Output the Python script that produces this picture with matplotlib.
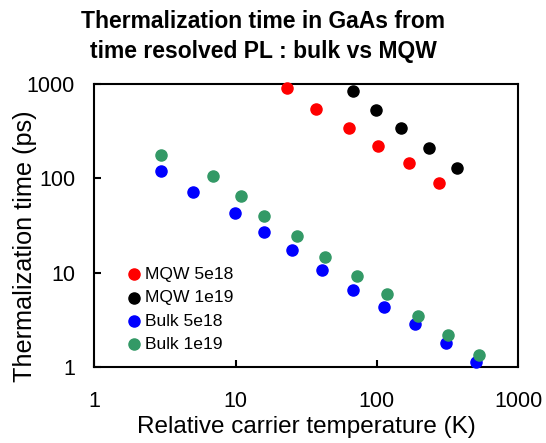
import matplotlib
matplotlib.use("Agg")
import matplotlib.pyplot as plt
from matplotlib.ticker import FixedLocator, FixedFormatter, NullLocator

plt.rcParams['font.family'] = ['Liberation Sans', 'DejaVu Sans']

mqw5_x = [23.1, 37.0, 63.1, 101, 168, 274]
mqw5_y = [912, 546, 344, 222, 147, 90]
mqw1_x = [67.4, 98, 148, 233, 369]
mqw1_y = [847, 533, 344, 208, 129]
bulk5_x = [2.97, 4.96, 9.94, 15.9, 24.9, 41.1, 68.1, 113, 187, 307, 506]
bulk5_y = [119, 71.6, 43.4, 27.3, 17.2, 10.6, 6.53, 4.28, 2.85, 1.78, 1.12]
bulk1_x = [2.97, 6.94, 10.96, 15.9, 27.0, 43.1, 72.3, 117, 194, 319, 526]
bulk1_y = [176, 106, 65.6, 39.6, 24.3, 14.7, 9.25, 5.92, 3.46, 2.20, 1.34]
ticks = [1, 10, 100, 1000]
tick_labels = ['1', '10', '100', '1000']

fig = plt.figure(figsize=(5.46, 4.43), dpi=100)
ax = fig.add_axes([0.173, 0.1716, 0.776, 0.6388])

ms = 64
ax.scatter(mqw5_x, mqw5_y, s=ms, color='#ff0000', label='MQW 5e18', zorder=3, clip_on=False)
ax.scatter(mqw1_x, mqw1_y, s=ms, color='#000000', label='MQW 1e19', zorder=3, clip_on=False)
ax.scatter(bulk5_x, bulk5_y, s=ms, color='#0000ff', label='Bulk 5e18', zorder=3, clip_on=False)
ax.scatter(bulk1_x, bulk1_y, s=ms, color='#339966', label='Bulk 1e19', zorder=3, clip_on=False)

ax.set_xscale('log')
ax.set_yscale('log')
ax.set_xlim(1, 1000)
ax.set_ylim(1, 1000)
for a in (ax.xaxis, ax.yaxis):
    a.set_major_locator(FixedLocator(ticks))
    a.set_major_formatter(FixedFormatter(tick_labels))
    a.set_minor_locator(NullLocator())
ax.tick_params(axis='both', which='major', direction='in', length=5, width=1.5,
               labelsize=15.5)
ax.tick_params(axis='x', pad=17)
ax.tick_params(axis='y', pad=14)
for s in ax.spines.values():
    s.set_linewidth(1.5)

ax.set_xlabel('Relative carrier temperature (K)', fontsize=17.5)
ax.xaxis.set_label_coords(0.5, -0.172)
ax.set_ylabel('Thermalization time (ps)', fontsize=18.2)
ax.yaxis.set_label_coords(-0.135, 0.428)
fig.text(0.4817, 0.978, 'Thermalization time in GaAs from\ntime resolved PL : bulk vs MQW',
         fontsize=16.5, fontweight='bold', ha='center', va='top', linespacing=1.38)

leg = ax.legend(loc='lower left', bbox_to_anchor=(0.052, 0.028), frameon=False,
                fontsize=12.6, handletextpad=0.05, labelspacing=0.47, handlelength=1.2,
                borderaxespad=0)

fig.savefig('out.png', dpi=100)
